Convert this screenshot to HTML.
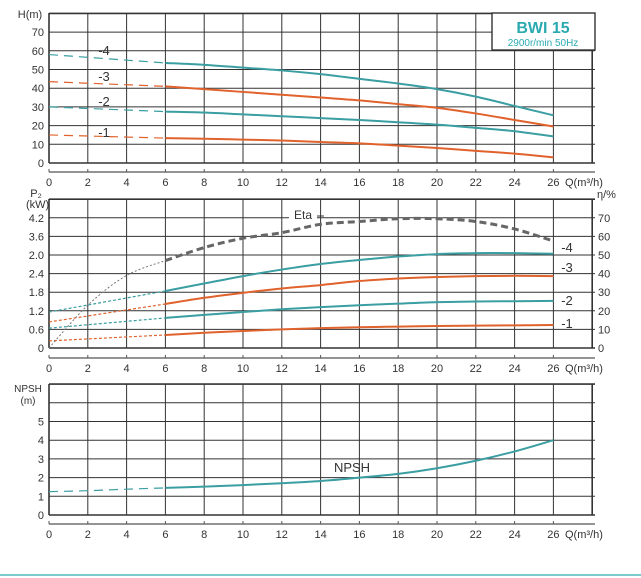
<!DOCTYPE html>
<html><head><meta charset="utf-8">
<style>
html,body{margin:0;padding:0;background:#fff;}
svg{display:block;font-family:"Liberation Sans",sans-serif;}
</style></head>
<body>
<svg id="c" width="641" height="578" viewBox="0 0 641 578"></svg>
<script>
const qTicks=[0,2,4,6,8,10,12,14,16,18,20,22,24,26];
const hTicks=[0,10,20,30,40,50,60,70];
const pTickLabels=["0","0.6","1.2","1.8","2.4","2.0","3.6","4.2"];
const etaTicks=[0,10,20,30,40,50,60,70];
const npshTicks=[0,1,2,3,4,5];
const qPts=[0,6,8,10,12,14,16,18,20,22,24,26];
const h4=[58,53.5,52.5,51,49.5,47.5,45,42.5,39.5,35.5,30.5,25.5];
const h3=[43.5,41,39.5,38,36.5,35,33.5,31.5,29.5,26.5,23,19.5];
const h2=[30,27.5,27,26,25,24,23,21.8,20.5,18.8,17,14.2];
const h1=[15,13.3,13,12.5,12,11.2,10.5,9.3,8,6.5,5,3];
const p4=[1.16,1.84,2.08,2.32,2.53,2.71,2.84,2.95,3.03,3.06,3.06,3.04];
const p3=[0.84,1.42,1.62,1.78,1.92,2.03,2.16,2.24,2.29,2.32,2.33,2.32];
const p2=[0.64,0.97,1.07,1.16,1.25,1.32,1.38,1.43,1.48,1.5,1.51,1.52];
const p1=[0.23,0.42,0.49,0.55,0.6,0.64,0.67,0.69,0.71,0.72,0.73,0.74];
const etaQ=[0,2,4,6,8,10,12,14,16,18,20,22,24,26];
const etaV=[0,23,39,47,54,59,62,66.5,68,69.5,69.5,68,64,57.5];
const npshQ=[0,2,4,6,8,10,12,14,16,18,20,22,24,26];
const npshV=[1.25,1.3,1.38,1.45,1.52,1.6,1.7,1.82,2.0,2.2,2.5,2.9,3.4,4.0];

const svg=document.getElementById('c');
const NS='http://www.w3.org/2000/svg';
const TEAL='#3a9ea2', ORANGE='#e0622c', GRID='#333';
function el(tag,attrs,parent){const e=document.createElementNS(NS,tag);for(const k in attrs)e.setAttribute(k,attrs[k]);(parent||svg).appendChild(e);return e;}
const X0=49, XS=19.4, XR=595;
const xs=q=>X0+q*XS;
function txt(s,x,y,anchor,size,fill,name){const t=el('text',{x:x,y:y,'text-anchor':anchor||'middle','font-size':size||11,fill:fill||'#333'});t.textContent=s;return t;}
function pathD(pts){let d='M'+pts[0][0]+','+pts[0][1];for(let i=0;i<pts.length-1;i++){const p0=pts[i-1]||pts[i],p1=pts[i],p2=pts[i+1],p3=pts[i+2]||p2;d+=' C'+(p1[0]+(p2[0]-p0[0])/6)+','+(p1[1]+(p2[1]-p0[1])/6)+' '+(p2[0]-(p3[0]-p1[0])/6)+','+(p2[1]-(p3[1]-p1[1])/6)+' '+p2[0]+','+p2[1];}return d;}
function panel(name,top,zeroY,rowH,rows,axisY,yLabels,ylx){
  const g=el('g',{});
  for(let i=0;i<=rows;i++){const y=zeroY-i*rowH;el('line',{x1:X0,x2:XR,y1:y,y2:y,stroke:GRID,'stroke-width':i==0||i==rows?1.6:1},g);}
  for(let i=0;i<=14;i++){const x=xs(i*2);el('line',{x1:x,x2:x,y1:top,y2:zeroY,stroke:GRID,'stroke-width':i==0||i==14?1.6:1},g);}
  el('line',{x1:X0,x2:XR,y1:axisY,y2:axisY,stroke:'#555','stroke-width':1.2},g);
  qTicks.forEach(q=>{el('line',{x1:xs(q),x2:xs(q),y1:axisY,y2:axisY-3,stroke:'#555'},g);txt(String(q),xs(q),axisY+14,'middle',11,'#333',name+'-x-tick');});
  txt('Q(m³/h)',xR(),axisY+14,'start',11,'#333',name+'-x-axis-title');
  yLabels.forEach((s,i)=>txt(s,ylx,zeroY-i*rowH+4,'end',11,'#333',name+'-y-tick'));
}
function xR(){return 565;}
function curve(qs,vals,ys,color,w,name,dashFrom){
  const pts=qs.map((q,i)=>[xs(q),ys(vals[i])]);
  const solid=[],dash=[];
  qs.forEach((q,i)=>{if(q<=6)dash.push(pts[i]);if(q>=6)solid.push(pts[i]);});
  if(dash.length>1){const p=el('path',{d:pathD(dash),fill:'none',stroke:color,'stroke-width':1.2,'stroke-dasharray':dashFrom||'9,6'});}
  const p=el('path',{d:pathD(solid),fill:'none',stroke:color,'stroke-width':w});
}
// TOP: head
const hY=v=>163-v*1.87;
panel('head',13,163,18.7,8,172,hTicks.map(String),44);
el('rect',{x:492,y:13,width:103,height:37,fill:'#fff',stroke:GRID,'stroke-width':1.4});
txt('BWI 15',543,33,'middle',16,'#2aaab0','model-title').setAttribute('font-weight','bold');
txt('2900r/min 50Hz',543,46,'middle',10,'#2aaab0','speed-subtitle');
txt('H(m)',30,18,'middle',11,'#333','head-y-axis-title');
curve(qPts,h4,hY,TEAL,2,'head-curve-4');
curve(qPts,h3,hY,ORANGE,2,'head-curve-3');
curve(qPts,h2,hY,TEAL,2,'head-curve-2');
curve(qPts,h1,hY,ORANGE,2,'head-curve-1');
[['-4',55],['-3',81],['-2',106],['-1',137]].forEach(l=>txt(l[0],104,l[1],'middle',13,'#333','head-label'+l[0]));
// MIDDLE: power & eta
const rowP=18.6;
const pY=v=>348-v/0.6*rowP;
const eY=v=>348-v/10*rowP;
panel('power',199,348,rowP,8,358,pTickLabels,44);
etaTicks.forEach((v,i)=>txt(String(v),598,348-i*rowP+4,'start',11,'#333','eta-y-tick'));
txt('P₂',36,197,'middle',11,'#333','power-y-axis-title');
txt('(kW)',26,208,'start',11,'#333','power-y-axis-unit');
txt('η/%',597,198,'start',11,'#333','eta-y-axis-title');
curve(qPts,p4,pY,TEAL,2,'power-curve-4','3,2');
curve(qPts,p3,pY,ORANGE,2,'power-curve-3','3,2');
curve(qPts,p2,pY,TEAL,2,'power-curve-2','3,2');
curve(qPts,p1,pY,ORANGE,2,'power-curve-1','3,2');
(function(){const pts=etaQ.map((q,i)=>[xs(q),eY(etaV[i])]);
 const d=[],s=[];etaQ.forEach((q,i)=>{if(q<=6)d.push(pts[i]);if(q>=6)s.push(pts[i]);});
 let p=el('path',{d:pathD(d),fill:'none',stroke:'#777','stroke-width':1,'stroke-dasharray':'2,2'});
 p=el('path',{d:pathD(s),fill:'none',stroke:'#666','stroke-width':3,'stroke-dasharray':'7,4'});})();
el('rect',{x:289,y:208,width:28,height:13,fill:'#fff'});
txt('Eta',303,219,'middle',12,'#333','eta-label');
el('line',{x1:317,x2:324,y1:216,y2:216,stroke:'#333'});
[['-4',252],['-3',272],['-2',305],['-1',328]].forEach(l=>txt(l[0],567,l[1],'middle',13,'#333','power-label'+l[0]));
// BOTTOM: NPSH
const nY=v=>515-v*18.7;
panel('npsh',384,515,18.7,7,524,npshTicks.map(String),44);
txt('NPSH',28,392,'middle',10,'#333','npsh-y-axis-title');
txt('(m)',28,404,'middle',10,'#333','npsh-y-axis-unit');
curve(npshQ,npshV,nY,TEAL,2,'npsh-curve');
txt('NPSH',352,472,'middle',13,'#333','npsh-label');
el('rect',{x:0,y:574,width:641,height:2,fill:'#7cc9cc'});
</script>
</body></html>
